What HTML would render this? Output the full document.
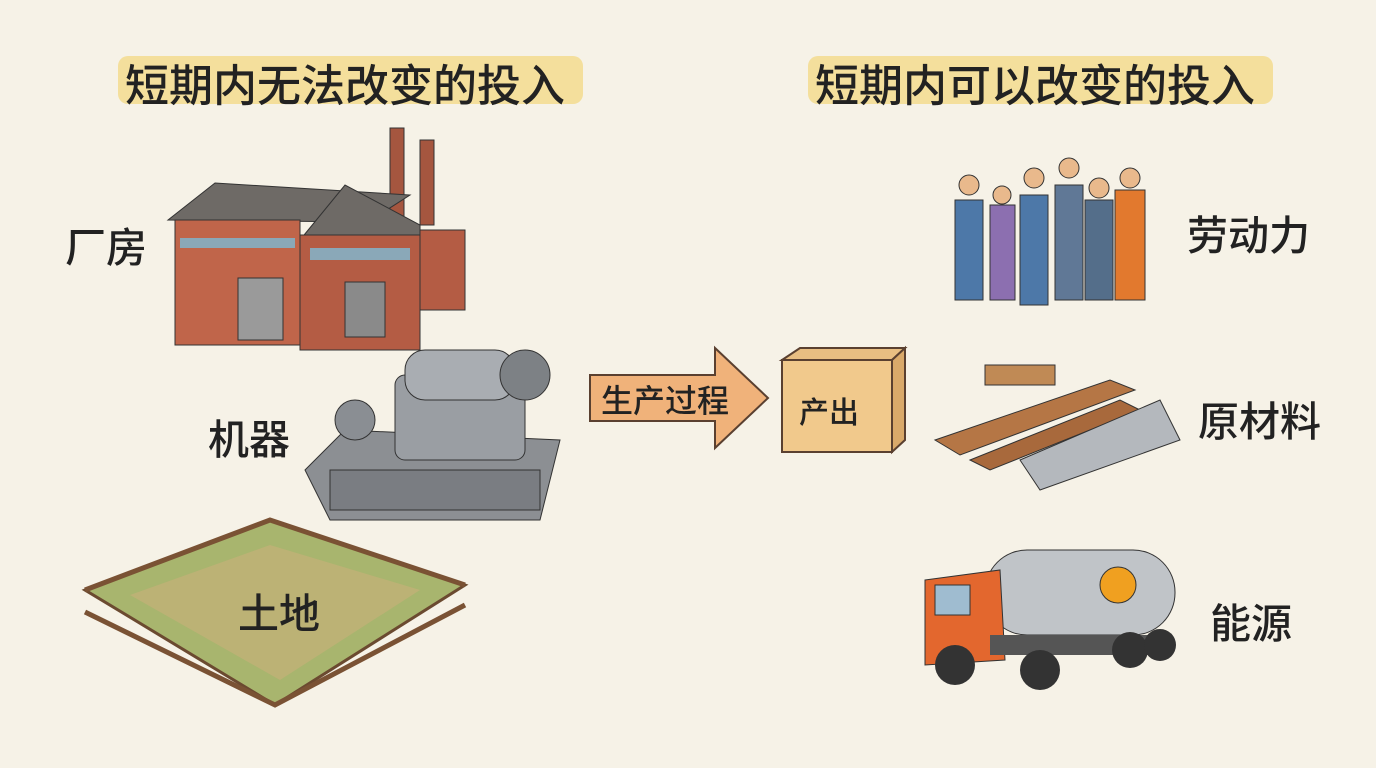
<!DOCTYPE html>
<html><head><meta charset="utf-8">
<style>
html,body{margin:0;padding:0}
body{width:1376px;height:768px;background:#f6f2e7;position:relative;overflow:hidden;font-family:"Liberation Sans","Noto Sans CJK SC",sans-serif;color:#222}
.t{position:absolute;white-space:nowrap;font-weight:500}
.hl{position:absolute;background:#f3dc8e;border-radius:10px;opacity:.85}
svg{position:absolute;left:0;top:0}
</style></head><body>
<div class="hl" style="left:118px;top:56px;width:465px;height:48px"></div>
<div class="hl" style="left:808px;top:56px;width:465px;height:48px"></div>
<div class="t" style="left:125px;top:50px;font-size:44px">短期内无法改变的投入</div>
<div class="t" style="left:815px;top:50px;font-size:44px">短期内可以改变的投入</div>

<svg width="1376" height="768" viewBox="0 0 1376 768">
<rect x="390" y="128" width="14" height="90" fill="#a5563f" stroke="#333"/>
<rect x="420" y="140" width="14" height="85" fill="#a5563f" stroke="#333"/>
<polygon points="168,220 215,183 410,195 368,222" fill="#6e6a66" stroke="#333"/>
<polygon points="300,240 345,185 420,225 420,240" fill="#6e6a66" stroke="#333"/>
<rect x="175" y="220" width="125" height="125" fill="#c0654a" stroke="#333"/>
<rect x="300" y="235" width="120" height="115" fill="#b45c44" stroke="#333"/>
<rect x="420" y="230" width="45" height="80" fill="#b45c44" stroke="#333"/>
<rect x="180" y="238" width="115" height="10" fill="#8aa8b8"/>
<rect x="238" y="278" width="45" height="62" fill="#9a9a9a" stroke="#333"/>
<rect x="345" y="282" width="40" height="55" fill="#8a8a8a" stroke="#333"/>
<rect x="310" y="248" width="100" height="12" fill="#8aa8b8"/>
<polygon points="305,470 345,430 560,440 540,520 330,520" fill="#8c8f93" stroke="#333"/>
<rect x="330" y="470" width="210" height="40" fill="#7a7d82" stroke="#333"/>
<rect x="395" y="375" width="130" height="85" rx="10" fill="#9a9ea3" stroke="#333"/>
<rect x="405" y="350" width="110" height="50" rx="20" fill="#a9adb2" stroke="#333"/>
<circle cx="355" cy="420" r="20" fill="#8a8e93" stroke="#333"/>
<circle cx="525" cy="375" r="25" fill="#7d8185" stroke="#333"/>
<polygon points="85,590 270,520 465,585 275,705" fill="#a8b56e" stroke="#6b4a30" stroke-width="3"/>
<polygon points="130,595 270,545 420,590 280,680" fill="#c9b07a" opacity=".6"/>
<polyline points="85,590 270,520 465,585" fill="none" stroke="#7a5234" stroke-width="5"/>
<polyline points="85,612 275,705 465,605" fill="none" stroke="#7a5234" stroke-width="5"/>
<polygon points="590,375 715,375 715,348 768,398 715,448 715,421 590,421" fill="#f0b27a" stroke="#5a4030" stroke-width="2"/>
<polygon points="782,360 800,348 905,348 892,360" fill="#e8be82" stroke="#5a4030" stroke-width="2"/>
<rect x="782" y="360" width="110" height="92" fill="#f1c98c" stroke="#5a4030" stroke-width="2"/>
<polygon points="892,360 905,348 905,440 892,452" fill="#d9a96a" stroke="#5a4030" stroke-width="2"/>
<g fill="#4d78a8" stroke="#333">
<rect x="955" y="200" width="28" height="100"/><rect x="990" y="205" width="25" height="95" fill="#8c6fb0"/>
<rect x="1020" y="195" width="28" height="110"/><rect x="1055" y="185" width="28" height="115" fill="#607896"/>
<rect x="1085" y="200" width="28" height="100" fill="#546e8a"/><rect x="1115" y="190" width="30" height="110" fill="#e2792e"/>
</g>
<g fill="#e9b98c" stroke="#333"><circle cx="969" cy="185" r="10"/><circle cx="1002" cy="195" r="9"/><circle cx="1034" cy="178" r="10"/><circle cx="1069" cy="168" r="10"/><circle cx="1099" cy="188" r="10"/><circle cx="1130" cy="178" r="10"/></g>
<polygon points="935,440 1110,380 1135,390 960,455" fill="#b57645" stroke="#333"/>
<polygon points="970,460 1120,400 1140,410 990,470" fill="#a8693c" stroke="#333"/>
<polygon points="1020,460 1160,400 1180,440 1040,490" fill="#b4b8bd" stroke="#333"/>
<rect x="985" y="365" width="70" height="20" fill="#c08a55" stroke="#333"/>
<rect x="985" y="550" width="190" height="85" rx="42" fill="#c0c4c8" stroke="#333"/>
<circle cx="1118" cy="585" r="18" fill="#f0a020" stroke="#333"/>
<polygon points="925,580 1000,570 1005,660 925,665" fill="#e3672e" stroke="#333"/>
<rect x="935" y="585" width="35" height="30" fill="#9fbcd0" stroke="#333"/>
<rect x="990" y="635" width="180" height="20" fill="#555"/>
<g fill="#333"><circle cx="955" cy="665" r="20"/><circle cx="1040" cy="670" r="20"/><circle cx="1130" cy="650" r="18"/><circle cx="1160" cy="645" r="16"/></g>
</svg>

<div class="t" style="left:65px;top:214px;font-size:41px">厂房</div>
<div class="t" style="left:208px;top:406px;font-size:41px">机器</div>
<div class="t" style="left:238px;top:580px;font-size:41px">土地</div>
<div class="t" style="left:601px;top:376px;font-size:32px">生产过程</div>
<div class="t" style="left:799px;top:388px;font-size:30px">产出</div>
<div class="t" style="left:1187px;top:202px;font-size:41px">劳动力</div>
<div class="t" style="left:1198px;top:388px;font-size:41px">原材料</div>
<div class="t" style="left:1210px;top:590px;font-size:41px">能源</div>
</body></html>
